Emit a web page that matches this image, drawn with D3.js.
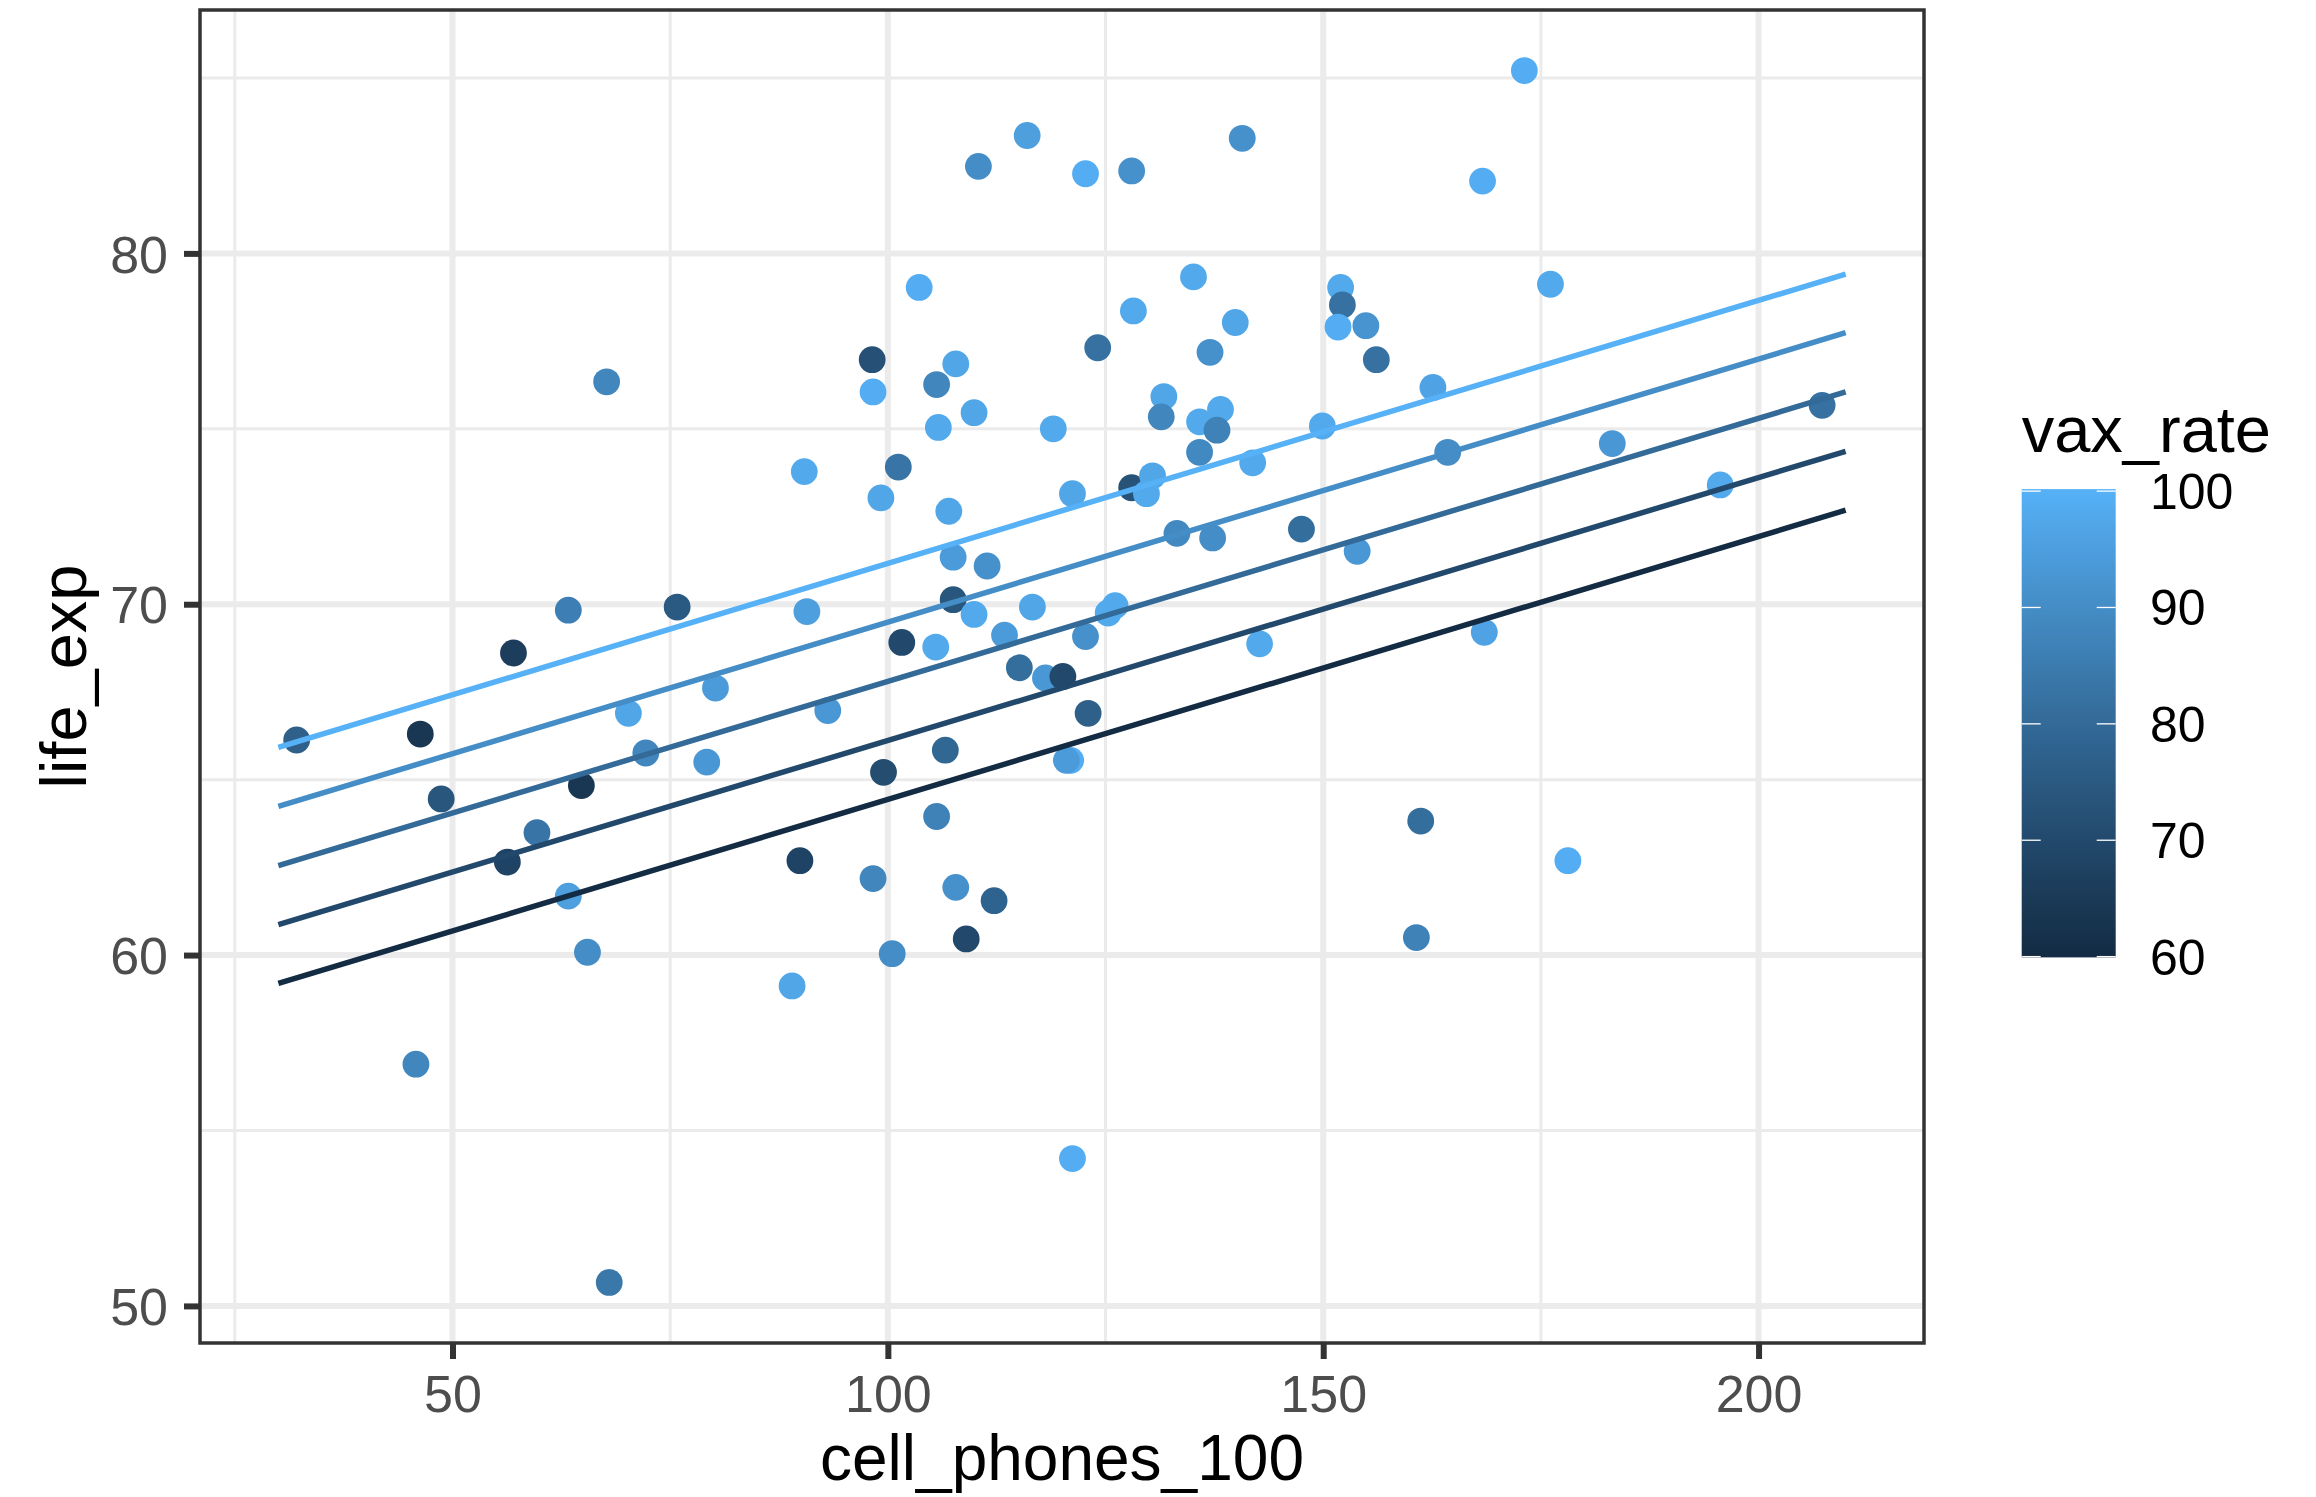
<!DOCTYPE html>
<html>
<head>
<meta charset="utf-8">
<script src="https://cdn.jsdelivr.net/npm/d3@7"></script>
<style>
    body { margin: 0; background: #fff; }
    text { font-family: "Liberation Sans", Arial, Helvetica, sans-serif; }
</style>
</head>
<body>
<svg width="2316" height="1497"></svg>
<script>
const width = 2316;
const height = 1497;
const panel = { left: 200, top: 10, right: 1924, bottom: 1343 };

// points
const cellPhones = [
    173.1, 116.0, 110.4, 122.7, 128.0, 140.7, 168.3, 103.6, 98.2, 98.3,
    107.8, 105.6, 105.8, 109.9, 67.7, 90.4, 99.2, 101.2, 107.0, 107.5,
    111.4, 119.0, 121.2, 124.1, 128.2, 128.0, 130.4, 129.7, 131.7, 131.4,
    135.1, 137.0, 135.8, 135.8, 138.2, 137.8, 137.3, 133.2, 139.9, 141.9,
    149.9, 152.0, 152.2, 151.7, 154.9, 156.1, 162.6, 164.3, 176.1, 183.2,
    195.6, 207.3, 147.5, 153.9, 168.5, 142.7, 161.2, 160.7, 178.1, 32.1,
    46.3, 48.7, 57.0, 63.3, 64.8, 56.3, 59.7, 63.3, 65.5, 45.8,
    68.0, 75.8, 70.2, 72.2, 80.2, 79.2, 90.7, 93.1, 89.9, 89.0,
    98.3, 99.5, 100.5, 101.6, 107.5, 109.9, 105.5, 105.6, 106.6, 107.8,
    109.0, 112.2, 113.4, 115.1, 116.6, 118.1, 120.1, 122.7, 126.1, 125.3,
    121.0, 120.5, 123.0, 121.2
];
const lifeExp = [
    85.21, 83.36, 82.48, 82.27, 82.35, 83.28, 82.06, 79.03, 76.97, 76.05,
    76.85, 76.26, 75.04, 75.46, 76.34, 73.78, 73.03, 73.91, 72.65, 71.34,
    71.09, 75.0, 73.15, 77.31, 78.36, 73.32, 73.66, 73.15, 75.92, 75.34,
    79.33, 77.18, 75.2, 74.33, 75.55, 74.96, 71.89, 72.02, 78.03, 74.03,
    75.08, 79.03, 78.53, 77.9, 77.94, 76.97, 76.18, 74.33, 79.12, 74.58,
    73.4, 75.67, 72.14, 71.51, 69.2, 68.87, 63.82, 60.5, 62.69, 66.13,
    66.3, 64.45, 68.61, 69.83, 64.83, 62.65, 63.49, 61.68, 60.08, 56.89,
    50.67, 69.92, 66.89, 65.76, 67.61, 65.5, 69.79, 66.97, 62.69, 59.12,
    62.18, 65.21, 60.04, 68.91, 70.13, 69.71, 68.78, 63.95, 65.84, 61.93,
    60.46, 61.55, 69.12, 68.19, 69.92, 67.9, 67.94, 69.08, 69.96, 69.75,
    65.55, 65.55, 66.89, 54.2
];
const vaxRate = [
    99, 95, 90, 99, 91, 91, 99, 99, 72, 99,
    97, 88, 98, 97, 88, 98, 97, 83, 97, 94,
    91, 98, 97, 82, 98, 73, 97, 98, 97, 88,
    98, 91, 98, 89, 98, 87, 90, 89, 97, 98,
    98, 98, 82, 99, 92, 82, 96, 90, 98, 93,
    98, 82, 81, 93, 96, 98, 81, 87, 99, 77,
    64, 74, 66, 86, 64, 68, 83, 95, 90, 88,
    84, 75, 97, 88, 94, 93, 95, 93, 68, 97,
    88, 71, 90, 70, 74, 98, 98, 87, 79, 91,
    70, 78, 94, 81, 97, 93, 70, 91, 98, 98,
    99, 94, 77, 99
];

// fitted lines, one per vax_rate level
const lineVax = [60, 70, 80, 90, 100];
const lineCell = [30, 210];
const lineLifeStart = [59.19, 60.87, 62.55, 64.24, 65.92];
const lineLifeEnd = [72.68, 74.36, 76.05, 77.74, 79.41];

const xTicks = [50, 100, 150, 200];
const xMinor = [25, 75, 125, 175];
const yTicks = [50, 60, 70, 80];
const yMinor = [55, 65, 75, 85];
const legendTicks = [60, 70, 80, 90, 100];

const svg = d3.select("svg");

// ggplot style 5% expansion
const expand = (ext) => {
    const r = ext[1] - ext[0];
    return [ext[0] - r * 0.05, ext[1] + r * 0.05];
};
const x = d3.scaleLinear()
    .domain(expand(d3.extent(cellPhones.concat(lineCell))))
    .range([panel.left, panel.right]);
const y = d3.scaleLinear()
    .domain(expand(d3.extent(lifeExp.concat(lineLifeStart, lineLifeEnd))))
    .range([panel.bottom, panel.top]);
const color = d3.scaleLinear()
    .domain([60, 100])
    .range(["#132B43", "#56B1F7"])
    .interpolate(d3.interpolateLab);

svg.append("rect").attr("width", width).attr("height", height).attr("fill", "#fff");

// grid
const grid = svg.append("g");
grid.selectAll(".xminor").data(xMinor).join("line")
    .attr("x1", d => x(d)).attr("x2", d => x(d))
    .attr("y1", panel.top).attr("y2", panel.bottom)
    .attr("stroke", "#EBEBEB").attr("stroke-width", 3);
grid.selectAll(".yminor").data(yMinor).join("line")
    .attr("y1", d => y(d)).attr("y2", d => y(d))
    .attr("x1", panel.left).attr("x2", panel.right)
    .attr("stroke", "#EBEBEB").attr("stroke-width", 3);
grid.selectAll(".xmajor").data(xTicks).join("line")
    .attr("x1", d => x(d)).attr("x2", d => x(d))
    .attr("y1", panel.top).attr("y2", panel.bottom)
    .attr("stroke", "#EBEBEB").attr("stroke-width", 6);
grid.selectAll(".ymajor").data(yTicks).join("line")
    .attr("y1", d => y(d)).attr("y2", d => y(d))
    .attr("x1", panel.left).attr("x2", panel.right)
    .attr("stroke", "#EBEBEB").attr("stroke-width", 6);

// points
svg.append("g").selectAll("circle")
    .data(d3.range(cellPhones.length))
    .join("circle")
    .attr("cx", i => x(cellPhones[i]))
    .attr("cy", i => y(lifeExp[i]))
    .attr("r", 13.4)
    .attr("fill", i => color(vaxRate[i]));

// lines
const line = d3.line().x(d => x(d[0])).y(d => y(d[1]));
svg.append("g").selectAll("path")
    .data(lineVax)
    .join("path")
    .attr("d", (d, i) => line([[lineCell[0], lineLifeStart[i]], [lineCell[1], lineLifeEnd[i]]]))
    .attr("fill", "none")
    .attr("stroke", d => color(d))
    .attr("stroke-width", 5.5);

// panel border
svg.append("rect")
    .attr("x", panel.left).attr("y", panel.top)
    .attr("width", panel.right - panel.left)
    .attr("height", panel.bottom - panel.top)
    .attr("fill", "none").attr("stroke", "#333333").attr("stroke-width", 3.5);

// axes
const xAxisG = svg.append("g")
    .attr("transform", `translate(0, ${panel.bottom})`)
    .call(d3.axisBottom(x).tickValues(xTicks).tickSize(16).tickPadding(16));
const yAxisG = svg.append("g")
    .attr("transform", `translate(${panel.left}, 0)`)
    .call(d3.axisLeft(y).tickValues(yTicks).tickSize(16).tickPadding(16));
[xAxisG, yAxisG].forEach(g => {
    g.select(".domain").remove();
    g.selectAll(".tick line").attr("stroke", "#333333").attr("stroke-width", 6);
    g.selectAll(".tick text")
        .attr("fill", "#4D4D4D")
        .style("font-size", "52px")
        .style("font-family", '"Liberation Sans", Arial, Helvetica, sans-serif');
});
yAxisG.selectAll(".tick text").attr("dy", "0.36em");

// axis titles
svg.append("text")
    .attr("x", (panel.left + panel.right) / 2)
    .attr("y", 1480)
    .attr("text-anchor", "middle")
    .style("font-size", "64px")
    .attr("fill", "#000")
    .text("cell_phones_100");
svg.append("text")
    .attr("transform", `translate(86, ${(panel.top + panel.bottom) / 2}) rotate(-90)`)
    .attr("text-anchor", "middle")
    .style("font-size", "65px")
    .attr("fill", "#000")
    .text("life_exp");

// colour bar legend
const legend = { x: 2021.7, w: 94 };
const ly = d3.scaleLinear().domain([60, 100]).range([956.6, 491.1]);

svg.append("text")
    .attr("x", legend.x).attr("y", 452)
    .style("font-size", "65px")
    .attr("fill", "#000")
    .text("vax_rate");

const grad = svg.append("defs").append("linearGradient")
    .attr("id", "vaxgrad")
    .attr("x1", 0).attr("y1", 1).attr("x2", 0).attr("y2", 0);
grad.selectAll("stop")
    .data(d3.range(0, 1.0001, 0.05))
    .join("stop")
    .attr("offset", d => d)
    .attr("stop-color", d => color(60 + d * 40));

svg.append("rect")
    .attr("x", legend.x).attr("y", ly(100) - 2)
    .attr("width", legend.w).attr("height", ly(60) - ly(100) + 2.8)
    .attr("fill", "url(#vaxgrad)");

const lt = svg.append("g").selectAll("g").data(legendTicks).join("g");
lt.append("line")
    .attr("x1", legend.x).attr("x2", legend.x + 19)
    .attr("y1", d => ly(d)).attr("y2", d => ly(d))
    .attr("stroke", "#fff").attr("stroke-width", 1.3);
lt.append("line")
    .attr("x1", legend.x + legend.w - 19).attr("x2", legend.x + legend.w)
    .attr("y1", d => ly(d)).attr("y2", d => ly(d))
    .attr("stroke", "#fff").attr("stroke-width", 1.3);
lt.append("text")
    .attr("x", 2150)
    .attr("y", d => ly(d))
    .attr("dy", "0.36em")
    .style("font-size", "50px")
    .attr("fill", "#000")
    .text(d => d);
</script>
</body>
</html>
